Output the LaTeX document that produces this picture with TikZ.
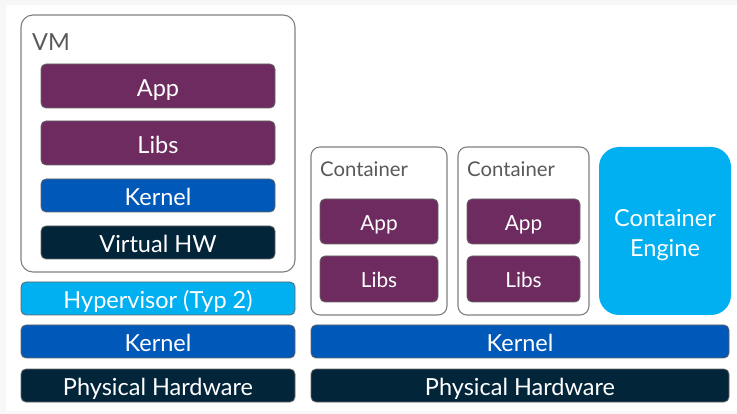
\documentclass[tikz,border=0pt]{standalone}
\usepackage{fontspec}
\setmainfont{Lato}
\usetikzlibrary{positioning}
\definecolor{appviolet}{RGB}{109,43,96}
\definecolor{kernelblue}{RGB}{0,88,184}
\definecolor{hwnavy}{RGB}{3,37,58}
\definecolor{hypblue}{RGB}{0,176,240}
\definecolor{framegray}{RGB}{128,128,128}
\definecolor{labelgray}{RGB}{89,89,89}

\begin{document}
\begin{tikzpicture}[x=1pt, y=-1pt,
  layer/.style={draw=framegray!80!black, line width=0.8pt, rounded corners=5pt,
    text=white, inner sep=0pt, align=center, font=\fontsize{23.5}{28}\selectfont,
    text height=22pt, text depth=1.1pt},
  small/.style={layer, font=\fontsize{20.8}{25}\selectfont, text height=18pt, text depth=0.6pt},
  frame/.style={draw=framegray, line width=1.1pt, fill=white, inner sep=0pt},
  lab/.style={text=labelgray, anchor=west, inner sep=0pt}
]
% background
\fill[black!3] (0,0) rectangle (737,414);
\fill[white] (6,5) rectangle (737,411);
\useasboundingbox (0,0) rectangle (737,414);

% virtual machine side
\node[frame, rounded corners=12pt, minimum width=274, minimum height=257] (vm) at (158,143.5) {};
\node[lab, font=\fontsize{23.5}{28}\selectfont] (vmlab) at (32,42.5) {VM};
\node[layer, fill=appviolet, minimum width=234, minimum height=44] (vmapp) at (158,86) {App};
\node[layer, fill=appviolet, minimum width=234, minimum height=44] (vmlibs) at (158,143) {Libs};
\node[layer, fill=kernelblue, minimum width=234, minimum height=33] (vmkernel) at (158,195.5) {Kernel};
\node[layer, fill=hwnavy, minimum width=234, minimum height=33] (vhw) at (158,242.5) {Virtual HW};
\node[layer, fill=hypblue, minimum width=274, minimum height=33] (hyp) at (158,298.5) {Hypervisor (Typ 2)};
\node[layer, fill=kernelblue, minimum width=274, minimum height=33] (kernl) at (158,341.5) {Kernel};
\node[layer, fill=hwnavy, minimum width=274, minimum height=33] (hwl) at (158,385.5) {Physical Hardware};

% container side
\node[frame, rounded corners=9pt, minimum width=136, minimum height=168] (cone) at (379,231) {};
\node[lab, font=\fontsize{20.3}{24}\selectfont] (conelab) at (320,169) {Container};
\node[small, fill=appviolet, minimum width=118, minimum height=45] (appone) at (379,221.5) {App};
\node[small, fill=appviolet, minimum width=118, minimum height=46] (libsone) at (379,279) {Libs};

\node[frame, rounded corners=9pt, minimum width=131, minimum height=168] (ctwo) at (523.5,231) {};
\node[lab, font=\fontsize{20.3}{24}\selectfont] (ctwolab) at (467,169) {Container};
\node[small, fill=appviolet, minimum width=113, minimum height=45] (apptwo) at (523.5,221.5) {App};
\node[small, fill=appviolet, minimum width=113, minimum height=46] (libstwo) at (523.5,279) {Libs};

\node[draw=none, fill=hypblue, rounded corners=20pt, minimum width=132, minimum height=168,
  inner sep=0pt] (engine) at (665,231) {};
\node[text=white, align=center, inner sep=0pt, font=\fontsize{23.5}{30.5}\selectfont]
  (englab) at ([yshift=-4pt]engine.center) {Container\\Engine};

\node[layer, fill=kernelblue, minimum width=418, minimum height=33] (kernr) at (520,341.5) {Kernel};
\node[layer, fill=hwnavy, minimum width=418, minimum height=33] (hwr) at (520,385.5) {Physical Hardware};
\end{tikzpicture}
\end{document}
